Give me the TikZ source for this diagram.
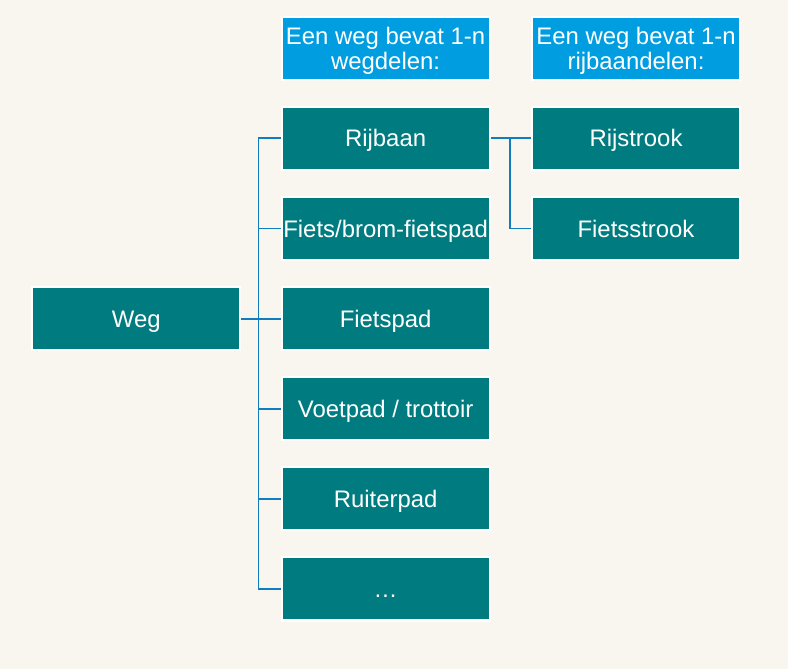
\documentclass[tikz,border=0pt]{standalone}
\usepackage{fontspec}
\setmainfont{Liberation Sans}
\definecolor{bgcream}{RGB}{249, 246, 239}
\definecolor{wegteal}{RGB}{0, 124, 128}
\definecolor{headblue}{RGB}{0, 158, 224}
\definecolor{linkblue}{RGB}{17, 125, 190}
\usetikzlibrary{positioning}

\begin{document}
\begin{tikzpicture}[
    partbox/.style={draw=white, line width=1.5pt, fill=wegteal, text=white, minimum width=5.2cm, minimum height=1.58cm, inner sep=0pt, text height=16pt, text depth=3.8pt, font=\fontsize{17}{19}\selectfont},
    headbox/.style={draw=white, line width=1.5pt, fill=headblue, text=white, minimum width=5.2cm, minimum height=1.58cm, inner sep=0pt, align=center, text depth=0pt, font=\fontsize{17}{18}\selectfont},
    link/.style={draw=linkblue, line width=1.3pt}
  ]
  % background
  \fill[bgcream] (0, 0) rectangle (19.7, -16.725);
  \useasboundingbox (0, 0) rectangle (19.7, -16.725);

  % headers
  \node[headbox] (headwegdeel) at (9.64, -1.21) {Een weg bevat 1-n\\wegdelen:};
  \node[headbox] (headrijbaan) at (15.9, -1.21) {Een weg bevat 1-n\\rijbaandelen:};

  % road parts
  \node[partbox] (rijbaan) at (9.64, -3.46) {Rijbaan};
  \node[partbox, below=0.62cm of rijbaan] (bromfietspad) {Fiets/brom-fietspad};
  \node[partbox, below=0.62cm of bromfietspad] (fietspad) {Fietspad};
  \node[partbox, below=0.62cm of fietspad] (voetpad) {Voetpad / trottoir};
  \node[partbox, below=0.62cm of voetpad] (ruiterpad) {Ruiterpad};
  \node[partbox, below=0.62cm of ruiterpad] (overig) {\dots};

  % the road
  \node[partbox, left=0.98cm of fietspad] (weg) {Weg};

  % lanes
  \node[partbox] (rijstrook) at (15.9, -3.46) {Rijstrook};
  \node[partbox, below=0.62cm of rijstrook] (fietsstrook) {Fietsstrook};

  % connectors
  \draw[link] (weg.east) -- (fietspad.west);
  \draw[link] (rijbaan.west) -- ++(-0.55, 0) |- (overig.west);
  \foreach \part in {bromfietspad, voetpad, ruiterpad}
    \draw[link] (\part.west) -- ++(-0.55, 0);

  \draw[link] (rijbaan.east) -- (rijstrook.west);
  \draw[link] (rijstrook.west) -- ++(-0.53, 0) |- (fietsstrook.west);
\end{tikzpicture}
\end{document}
